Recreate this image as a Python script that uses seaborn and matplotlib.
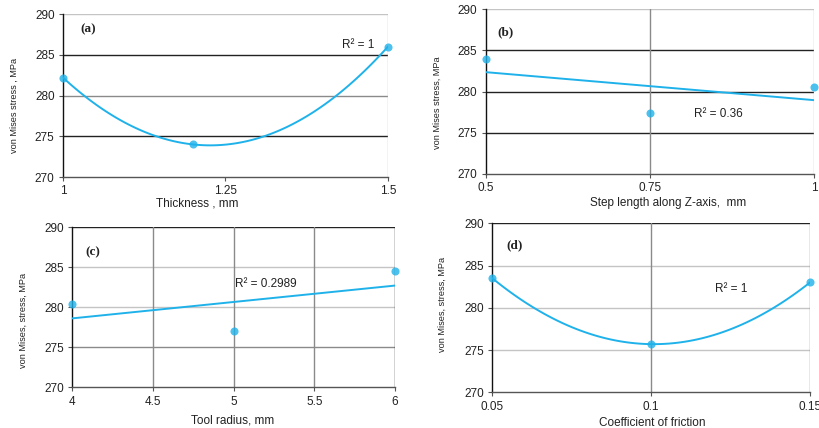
import matplotlib
matplotlib.use("Agg")
import matplotlib.pyplot as plt
import seaborn as sns
import pandas as pd

# ---- data ----
thickness = [1.0, 1.2, 1.5]
stress_a = [282.2, 274.0, 286.0]

step_length = [0.5, 0.75, 1.0]
stress_b = [284.0, 277.4, 280.6]

tool_radius = [4.0, 5.0, 6.0]
stress_c = [280.4, 277.1, 284.5]

friction = [0.05, 0.10, 0.15]
stress_d = [283.5, 275.7, 283.0]

xticks_a = [1, 1.25, 1.5]
xticks_b = [0.5, 0.75, 1]
xticks_c = [4, 4.5, 5, 5.5, 6]
xticks_d = [0.05, 0.1, 0.15]
xticklabels_a = ["1", "1.25", "1.5"]
xticklabels_b = ["0.5", "0.75", "1"]
xticklabels_c = ["4", "4.5", "5", "5.5", "6"]
xticklabels_d = ["0.05", "0.1", "0.15"]
yticks = [270, 275, 280, 285, 290]

sns.set_style("white")
plt.rcParams["font.family"] = ["Liberation Sans", "DejaVu Sans"]

BLUE = "#1FB2EA"
DARK = "#222222"
MID = "#8a8a8a"
LIGHT = "#c4c4c4"

fig = plt.figure(figsize=(8.19, 4.28), dpi=100)

panels = [
    dict(pos=[0.0769, 0.5864, 0.3968, 0.3808], x=thickness, y=stress_a, order=2,
         xlim=(1, 1.5), xt=xticks_a, xtl=xticklabels_a, tag="(a)", tagpos=(0.052, 0.905),
         r2="R² = 1", r2pos=(0.86, 0.81),
         ylabel="von Mises stress , MPa", ylpos=(-0.135, 0.44),
         xlabel="Thickness , mm", xlpos=(0.412, -0.123),
         hgrid=[LIGHT, DARK, MID, DARK], vgrid=[(1.5, LIGHT)]),
    dict(pos=[0.593, 0.5935, 0.4009, 0.3848], x=step_length, y=stress_b, order=1,
         xlim=(0.5, 1), xt=xticks_b, xtl=xticklabels_b, tag="(b)", tagpos=(0.037, 0.862),
         r2="R² = 0.36", r2pos=(0.634, 0.364),
         ylabel="von Mises stress, MPa", ylpos=(-0.133, 0.43),
         xlabel="Step length along Z-axis,  mm", xlpos=(0.555, -0.14),
         hgrid=[LIGHT, DARK, DARK, DARK], vgrid=[(0.75, MID), (1.0, LIGHT)]),
    dict(pos=[0.0883, 0.0951, 0.394, 0.3738], x=tool_radius, y=stress_c, order=1,
         xlim=(4, 6), xt=xticks_c, xtl=xticklabels_c, tag="(c)", tagpos=(0.042, 0.847),
         r2="R² = 0.2989", r2pos=(0.504, 0.646),
         ylabel="von Mises, stress, MPa", ylpos=(-0.138, 0.416),
         xlabel="Tool radius, mm", xlpos=(0.498, -0.167),
         hgrid=[DARK, LIGHT, LIGHT, MID], vgrid=[(4.5, MID), (5, MID), (5.5, MID), (6, DARK)]),
    dict(pos=[0.6011, 0.0834, 0.3879, 0.3949], x=friction, y=stress_d, order=2,
         xlim=(0.05, 0.15), xt=xticks_d, xtl=xticklabels_d, tag="(d)", tagpos=(0.043, 0.872),
         r2="R² = 1", r2pos=(0.70, 0.61),
         ylabel="von Mises, stress, MPa", ylpos=(-0.142, 0.517),
         xlabel="Coefficient of friction", xlpos=(0.502, -0.144),
         hgrid=[DARK, LIGHT, LIGHT, LIGHT], vgrid=[(0.1, MID), (0.15, MID)]),
]

for p in panels:
    ax = fig.add_axes(p["pos"])
    df = pd.DataFrame({"x": p["x"], "y": p["y"]})
    for val, col in zip([290, 285, 280, 275], p["hgrid"]):
        ax.axhline(val, color=col, lw=1.0, zorder=0)
    for val, col in p["vgrid"]:
        ax.axvline(val, color=col, lw=1.0, zorder=0)
    sns.regplot(data=df, x="x", y="y", order=p["order"], ci=None, ax=ax,
                color=BLUE, scatter_kws=dict(s=34, zorder=5, clip_on=False, linewidths=0),
                line_kws=dict(lw=1.4, zorder=4))
    for c in ax.collections:
        c.set_clip_on(False)
    ax.set_xlim(*p["xlim"])
    ax.set_ylim(270, 290)
    ax.set_xticks(p["xt"])
    ax.set_xticklabels(p["xtl"])
    ax.set_yticks(yticks)
    for s in ["top", "right"]:
        ax.spines[s].set_visible(False)
    ax.spines["left"].set_color("#111111")
    ax.spines["bottom"].set_color("#555555")
    ax.spines["left"].set_linewidth(1.0)
    ax.spines["bottom"].set_linewidth(1.0)
    ax.tick_params(axis="both", direction="out", length=3, width=0.8, color="#555555",
                   labelsize=8.5, labelcolor=DARK, pad=3, left=True, bottom=True)
    ax.set_xlabel(p["xlabel"], fontsize=8.5, color=DARK)
    ax.set_ylabel(p["ylabel"], fontsize=6.6, color=DARK,
                  family=["Liberation Sans Narrow", "Liberation Sans", "DejaVu Sans"])
    ax.xaxis.set_label_coords(*p["xlpos"])
    ax.yaxis.set_label_coords(*p["ylpos"])
    ax.text(p["tagpos"][0], p["tagpos"][1], p["tag"], transform=ax.transAxes,
            fontsize=9.5, fontweight="bold", family=["Liberation Serif", "DejaVu Serif"],
            color=DARK, va="center", ha="left")
    ax.text(p["r2pos"][0], p["r2pos"][1], p["r2"], transform=ax.transAxes,
            fontsize=8.5, color=DARK, va="center", ha="left")

fig.savefig("out.png", dpi=100)
